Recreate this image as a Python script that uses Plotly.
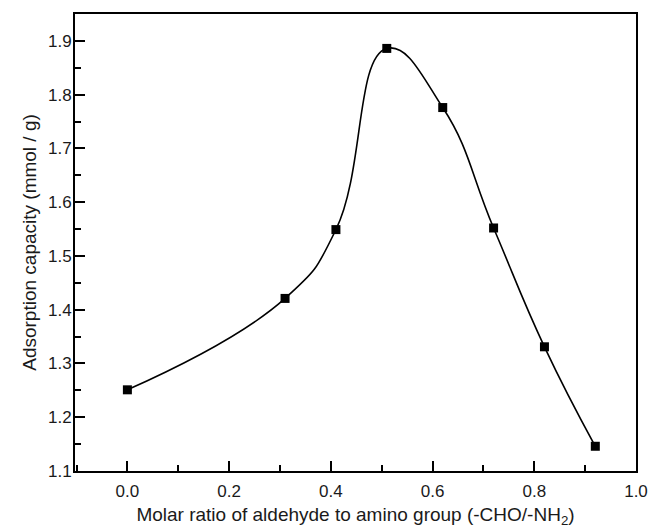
import plotly.graph_objects as go

ratio = [0.0, 0.31, 0.41, 0.51, 0.62, 0.72, 0.82, 0.92]
capacity = [1.251, 1.421, 1.549, 1.886, 1.776, 1.552, 1.331, 1.146]

x_ticks = [0.0, 0.2, 0.4, 0.6, 0.8, 1.0]
x_labels = ["0.0", "0.2", "0.4", "0.6", "0.8", "1.0"]
y_ticks = [1.1, 1.2, 1.3, 1.4, 1.5, 1.6, 1.7, 1.8, 1.9]
y_labels = ["1.1", "1.2", "1.3", "1.4", "1.5", "1.6", "1.7", "1.8", "1.9"]

fig = go.Figure()
fig.add_trace(go.Scatter(
    x=ratio, y=capacity, mode="lines",
    line=dict(shape="spline", smoothing=1.3, color="black", width=1.6),
    hoverinfo="skip", showlegend=False))
fig.add_trace(go.Scatter(
    x=ratio, y=capacity, mode="markers",
    marker=dict(symbol="square", size=9, color="black"),
    showlegend=False))

fam = "Liberation Sans, Arial, sans-serif"
tickfont = dict(family=fam, size=17, color="#1a1a1a")
titlefont = dict(family=fam, size=19, color="#1a1a1a")
axis_common = dict(
    showline=True, linecolor="black", linewidth=2, mirror=True,
    ticks="inside", ticklen=10, tickwidth=1.5, tickcolor="black",
    showgrid=False, zeroline=False, tickfont=tickfont, automargin=False,
)
fig.update_xaxes(
    range=[-0.103, 1.0], tickmode="array", tickvals=x_ticks, ticktext=x_labels,
    minor=dict(tickvals=[-0.1, 0.1, 0.3, 0.5, 0.7, 0.9], ticks="inside", ticklen=6, tickwidth=1.5, tickcolor="black"),
    ticklabelstandoff=4,
    title=dict(text="Molar ratio of aldehyde to amino group (-CHO/-NH<sub>2</sub>)", font=titlefont, standoff=9),
    **axis_common)
fig.update_yaxes(
    range=[1.1, 1.95], tickmode="array", tickvals=y_ticks, ticktext=y_labels,
    minor=dict(tickvals=[1.15, 1.25, 1.35, 1.45, 1.55, 1.65, 1.75, 1.85], ticks="inside", ticklen=6, tickwidth=1.5, tickcolor="black"),
    ticklabelstandoff=-2,
    title=dict(text="Adsorption capacity (mmol / g)", font=titlefont, standoff=6),
    **axis_common)

fig.update_layout(
    width=655, height=528,
    margin=dict(l=75, r=19, t=14, b=57),
    plot_bgcolor="white", paper_bgcolor="white",
)
fig.write_html("out.html", config={"displayModeBar": False},
               post_script="document.body.style.margin='0';document.body.style.overflow='hidden';")
